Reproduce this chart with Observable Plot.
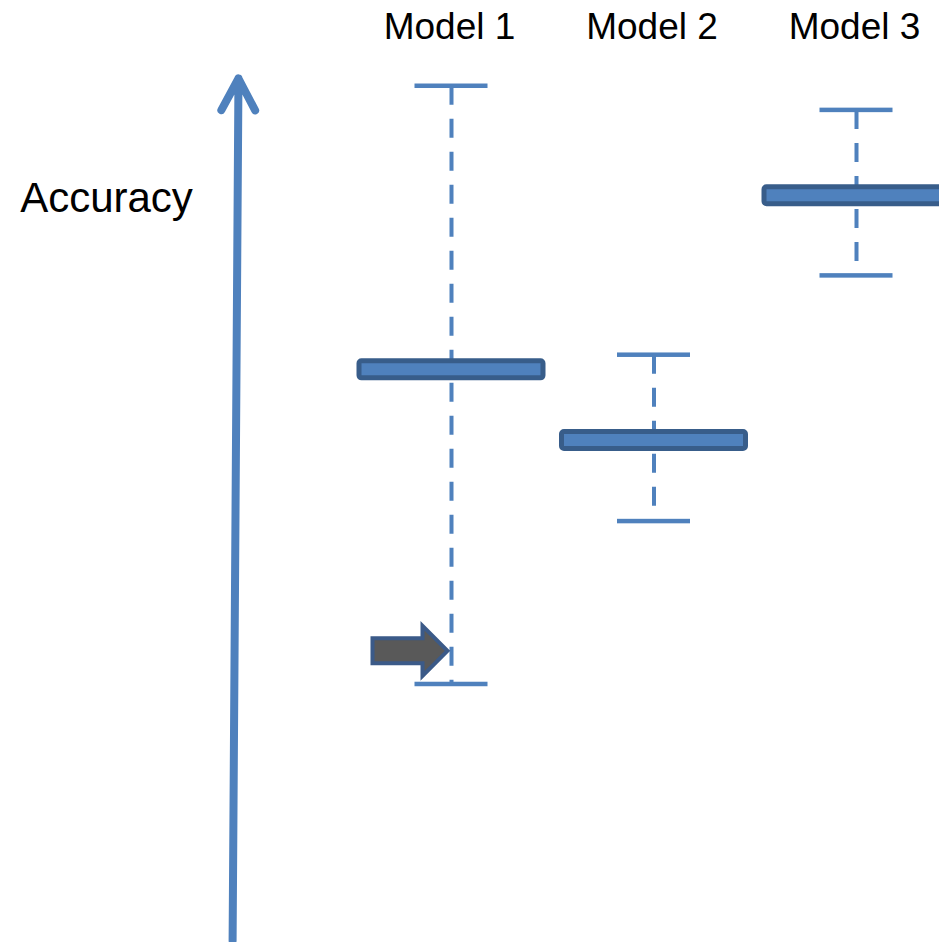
<!DOCTYPE html>
<html><head><meta charset="utf-8">
<script src="https://cdn.jsdelivr.net/npm/d3@7"></script>
<script src="https://cdn.jsdelivr.net/npm/@observablehq/plot@0.6"></script>
<style>
html,body{margin:0;padding:0;background:#fff;overflow:hidden}
#chart svg{display:block;overflow:hidden}
</style>
</head><body><div id="chart"></div>
<script>
// ---- data ----
const models = ["Model 1", "Model 2", "Model 3"];
const modelPos = [1, 2, 3];
const means = [66.2, 58.0, 86.4];
const highs = [99.1, 67.9, 96.3];
const lows  = [29.7, 48.6, 77.1];
const axisTitle = "Accuracy";
const axisValues = [0, 100];          // accuracy axis extent (bottom, top)
const axisXPos = [-0.081, -0.052];    // axis arrow position on model axis (bottom, top)
const pointerModel = [1];
const pointerValue = [33.6];

// ---- tables ----
const table = models.map((name, i) => ({name, pos: modelPos[i], mean: means[i], hi: highs[i], lo: lows[i]}));
const caps = table.flatMap(d => [{pos: d.pos, v: d.hi}, {pos: d.pos, v: d.lo}]);
const axisArrow = [{x1: axisXPos[0], y1: axisValues[0], x2: axisXPos[1], y2: axisValues[1]}];
const pointer = pointerModel.map((m, i) => ({pos: m, v: pointerValue[i]}));

const blue = "#4f81bd", dark = "#385d8a";
const font = "'Liberation Sans', Arial, Helvetica, sans-serif";

const blockArrow = {
  draw(ctx) {
    ctx.moveTo(0, 0);
    ctx.lineTo(-25, -25);
    ctx.lineTo(-25, -12.5);
    ctx.lineTo(-75, -12.5);
    ctx.lineTo(-75, 12.5);
    ctx.lineTo(-25, 12.5);
    ctx.lineTo(-25, 25);
    ctx.closePath();
  }
};

const plot = Plot.plot({
  width: 939,
  height: 942,
  margin: 0,
  style: {fontFamily: font, background: "#fff", overflow: "hidden"},
  x: {domain: [1, 3], range: [451, 856], axis: null},
  y: {domain: [0, 100], range: [940, 78], axis: null},
  marks: [
    Plot.arrow(axisArrow, {x1: "x1", y1: "y1", x2: "x2", y2: "y2", stroke: blue, strokeWidth: 8,
      headLength: 6.75, headAngle: 56, strokeLinecap: "round", strokeLinejoin: "round"}),
    Plot.ruleX(table, {x: "pos", y1: "hi", y2: "lo", stroke: blue, strokeWidth: 4, strokeDasharray: "19,14"}),
    Plot.rect(caps, {x1: "pos", x2: "pos", y1: "v", y2: "v", fill: blue,
      insetLeft: -36.5, insetRight: -36.5, insetTop: -2.25, insetBottom: -2.25}),
    Plot.rect(table, {x1: "pos", x2: "pos", y1: "mean", y2: "mean", fill: blue, stroke: dark, strokeWidth: 5,
      rx: 2.5, insetLeft: -92, insetRight: -92, insetTop: -8.5, insetBottom: -8.5}),
    Plot.dot(pointer, {x: "pos", y: "v", symbol: blockArrow, fill: "#595959", fillOpacity: 1,
      stroke: "#3b5a88", strokeWidth: 4, strokeLinejoin: "miter", dx: -4}),
    Plot.text(table, {x: "pos", text: "name", frameAnchor: "top", lineAnchor: "top", dy: 12,
      fontSize: 37, fill: "#000", textAnchor: "middle", dx: -2}),
    Plot.text([axisTitle], {text: d => d, frameAnchor: "top-left", lineAnchor: "top", dx: 106, dy: 182,
      fontSize: 42, fill: "#000", textAnchor: "middle"})
  ]
});
document.getElementById("chart").appendChild(plot);
</script>
</body></html>
